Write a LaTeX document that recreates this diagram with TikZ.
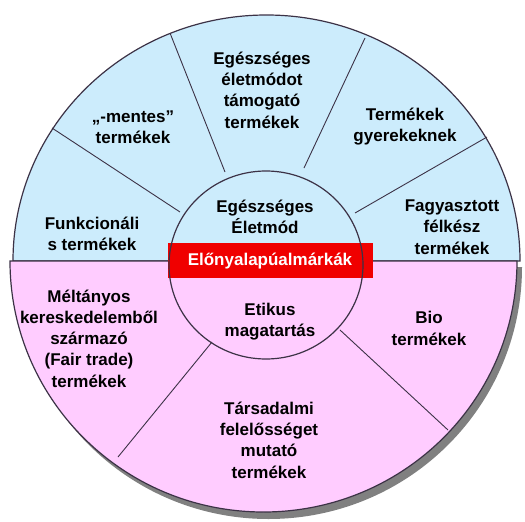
\documentclass[tikz,border=0pt]{standalone}
\usepackage{fontspec}
\setmainfont{Liberation Sans}
\definecolor{bluefill}{RGB}{204,236,252}
\definecolor{pinkfill}{RGB}{255,204,255}
\definecolor{edge}{RGB}{60,50,70}
\definecolor{shadowgray}{RGB}{128,128,128}
\definecolor{barred}{RGB}{240,0,0}
\tikzset{
  lbl/.style={font=\bfseries\fontsize{17}{21.3}\selectfont, align=center, inner sep=0pt, text=black},
  divider/.style={draw=edge, line width=0.9pt},
  rim/.style={draw=edge, line width=1.2pt}
}
\begin{document}
\begin{tikzpicture}[x=1pt,y=-1pt]
\useasboundingbox (0,0) rectangle (525,522);
% shadow of the lower half
\fill[shadowgray] (15,267) arc[start angle=180, end angle=360, x radius=253.5pt, y radius=252pt] -- cycle;
% upper half
\path[fill=bluefill, rim] (13,261) arc[start angle=180, end angle=0, x radius=253.5pt, y radius=246pt] -- cycle;
% lower half
\path[fill=pinkfill, rim] (10,261) arc[start angle=180, end angle=360, x radius=253.5pt, y radius=251pt] -- cycle;
% radial dividers
\coordinate (d1a) at (52,128);  \coordinate (d1b) at (180,212);
\coordinate (d2a) at (170,33);  \coordinate (d2b) at (225,172);
\coordinate (d3a) at (365,38);  \coordinate (d3b) at (304,168);
\coordinate (d4a) at (487,137); \coordinate (d4b) at (355,213);
\coordinate (d5a) at (212,342); \coordinate (d5b) at (118,457);
\coordinate (d6a) at (340,330); \coordinate (d6b) at (448,430);
\draw[divider] (d1a) -- (d1b);
\draw[divider] (d2a) -- (d2b);
\draw[divider] (d3a) -- (d3b);
\draw[divider] (d4a) -- (d4b);
\draw[divider] (d5a) -- (d5b);
\draw[divider] (d6a) -- (d6b);
% inner circle fill
\fill[bluefill] (169,261) arc[start angle=180, end angle=0, x radius=97pt, y radius=94pt] -- cycle;
\fill[pinkfill] (169,261) arc[start angle=180, end angle=360, x radius=97pt, y radius=94pt] -- cycle;
% red bar
\fill[barred] (168,243) rectangle (373,278);
% inner circle outline
\draw[rim] (266,265) ellipse[x radius=97pt, y radius=94pt];
% labels
\node[lbl] (top) at (262,90) {Egészséges\\életmódot\\támogató\\termékek};
\node[lbl] (mentes) at (133,127.5) {„-mentes”\\termékek};
\node[lbl] (gyerek) at (405,126.5) {Termékek\\gyerekeknek};
\node[lbl] (funk) at (92,234) {Funkcionáli\\s termékek};
\node[lbl] (fagy) at (452,227) {Fagyasztott\\félkész\\termékek};
\node[lbl] (eletmod) at (265,216.5) {Egészséges\\Életmód};
\node[lbl, text=white] (elony) at (270,261) {Előnyalapúalmárkák};
\node[lbl] (etikus) at (270,321.5) {Etikus\\magatartás};
\node[lbl] (fair) at (89,338.5) {Méltányos\\kereskedelemből\\származó\\(Fair trade)\\termékek};
\node[lbl] (bio) at (429,328.5) {Bio\\termékek};
\node[lbl] (tars) at (269,440) {Társadalmi\\felelősséget\\mutató\\termékek};
\end{tikzpicture}
\end{document}
